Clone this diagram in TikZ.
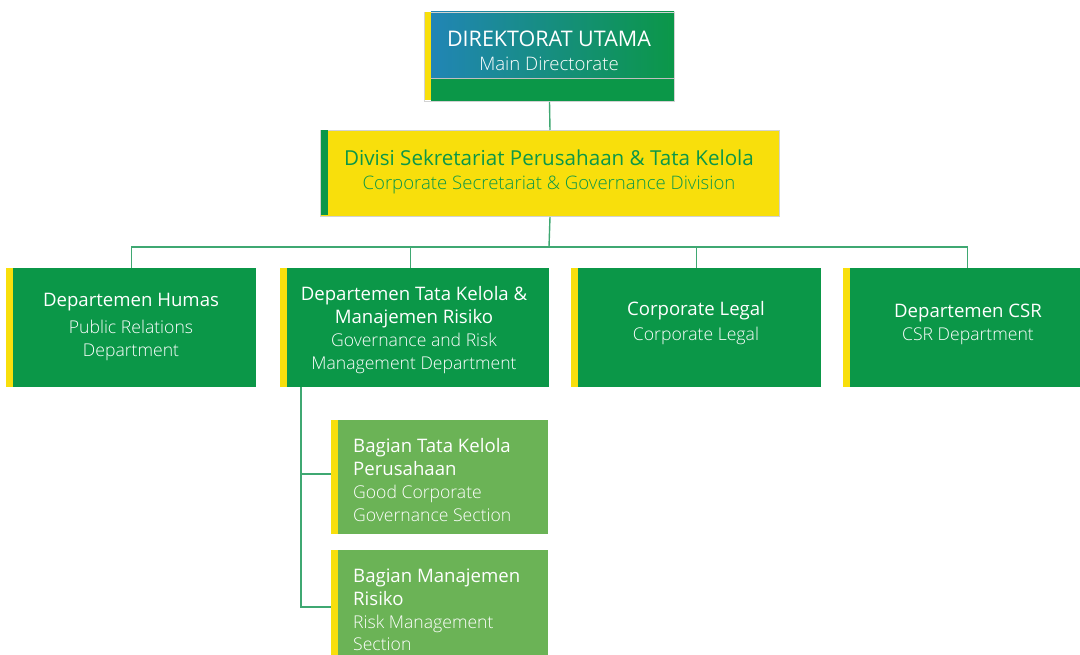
\documentclass[tikz,border=0pt]{standalone}
\usepackage{fontspec}
\setmainfont{Open Sans}
\newfontfamily\lightfam{Open Sans Light}
\definecolor{dgreen}{HTML}{0B9748}
\definecolor{lgreen}{HTML}{6BB356}
\definecolor{dyellow}{HTML}{F8DF0C}
\definecolor{dblue}{HTML}{2185B5}
\definecolor{linkc}{HTML}{3FA872}
\definecolor{framec}{HTML}{D2D2D2}
\newcommand\ttlfont{\fontsize{18.6}{22.7}\selectfont}
\newcommand\subfont{\lightfam\fontsize{17.6}{22.7}\selectfont}
\begin{document}
\begin{tikzpicture}[x=1pt,y=-1pt,
  dept/.style={fill=dgreen, minimum width=250pt, minimum height=119pt, anchor=north west, inner sep=0pt},
  sect/.style={fill=lgreen, minimum width=217pt, anchor=north west, inner sep=0pt},
  bar/.style={fill=dyellow},
  txt/.style={text=white, align=center, inner sep=0pt, font=\ttlfont},
  link/.style={draw=linkc, line width=1.4pt}
]
\useasboundingbox (0,0) rectangle (1080,655);

% Main directorate
\fill[left color=dblue, right color=dgreen] (431,12) rectangle (674,78);
\fill[dgreen] (431,78) rectangle (674,101);
\draw[black!25, line width=0.6pt] (431,78.5) -- (674,78.5);
\node[draw=framec, line width=1pt, minimum width=250pt, minimum height=89pt, anchor=north west, inner sep=0pt] (dir) at (424,12) {};
\fill[bar] (424.5,12.5) rectangle (431,100.5);
\node[txt, font=\fontsize{21.5}{24}\selectfont] (dir-t) at (549,51) {DIREKTORAT UTAMA\\{\lightfam\fontsize{18.6}{24}\selectfont Main Directorate}};

% Corporate secretariat division
\node[draw=framec, line width=1pt, fill=dyellow, minimum width=459pt, minimum height=86pt, anchor=north west, inner sep=0pt] (div) at (320,130) {};
\fill[dgreen] (320.5,130.5) rectangle (328,215.5);
\node[txt, text=dgreen, font=\fontsize{20.6}{23.5}\selectfont] (div-t) at (549,172) {Divisi Sekretariat Perusahaan \& Tata Kelola\\{\lightfam\fontsize{18.6}{23.5}\selectfont Corporate Secretariat \& Governance Division}};

% Departments
\node[dept] (humas) at (6,268) {};
\node[dept, minimum width=269pt] (tk) at (280,268) {};
\node[dept] (legal) at (571,268) {};
\node[dept, minimum width=237pt] (csr) at (843,268) {};
\foreach \n in {humas,tk,legal,csr}
  \fill[bar] (\n.north west) rectangle ([xshift=7pt]\n.south west);

\node[txt] (humas-t) at (131,327) {Departemen Humas\\[4pt]{\subfont Public Relations}\\{\subfont Department}};
\node[txt] (tk-t) at (414,330) {Departemen Tata Kelola \&\\Manajemen Risiko\\{\subfont Governance and Risk}\\{\subfont Management Department}};
\node[txt] (legal-t) at (696,323) {Corporate Legal\\[3pt]{\subfont Corporate Legal}};
\node[txt] (csr-t) at (968,324.5) {Departemen CSR\\{\subfont CSR Department}};

% Sections
\node[sect, minimum height=114pt] (gcg) at (331,420) {};
\node[sect, minimum height=110pt] (risk) at (331,550) {};
\foreach \n in {gcg,risk}
  \fill[bar] (\n.north west) rectangle ([xshift=7pt]\n.south west);
\node[txt, align=left, anchor=west] (gcg-t) at (353,480) {Bagian Tata Kelola\\Perusahaan\\{\subfont Good Corporate}\\{\subfont Governance Section}};
\node[txt, align=left, anchor=west] (risk-t) at (353,610) {Bagian Manajemen\\Risiko\\{\subfont Risk Management}\\{\subfont Section}};

% Connectors
\coordinate (bus) at (549,247);
\path[link] (dir.south) -- (div.north);
\path[link] (div.south) -- (bus);
\path[link] (bus) -| (humas.north);
\path[link] (bus) -| ([xshift=-4pt]tk.north);
\path[link] (bus) -| (legal.north);
\path[link] (bus) -| ([xshift=6pt]csr.north);
\coordinate (spine) at (301,387);
\path[link] (spine) |- (risk.west |- 0,607);
\path[link] (spine |- 0,474) -- (gcg.west |- 0,474);
\end{tikzpicture}
\end{document}
